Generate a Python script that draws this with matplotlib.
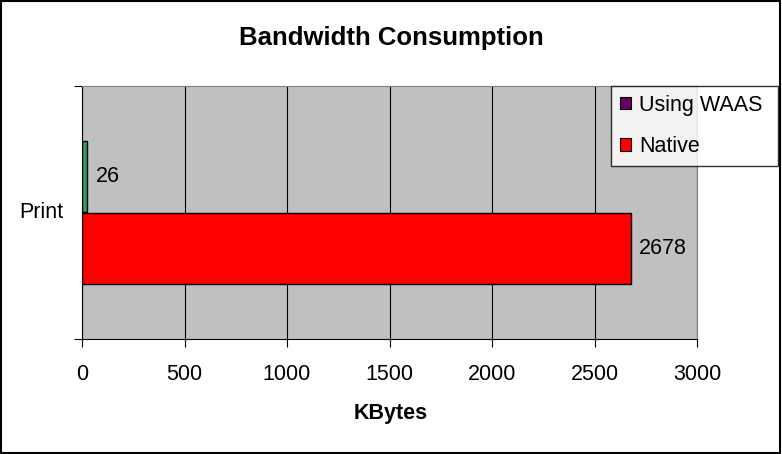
import matplotlib.pyplot as plt
from matplotlib.patches import Patch, Rectangle

plt.rcParams['font.family'] = ['Liberation Sans', 'DejaVu Sans']

category = 'Print'
series = ['Using WAAS', 'Native']
values = [26, 2678]
bar_colors = ['#339966', '#ff0000']
legend_colors = ['#660066', '#ff0000']
xticks = [0, 500, 1000, 1500, 2000, 2500, 3000]

W, H = 782, 454
fs = 15.5

fig = plt.figure(figsize=(W / 100, H / 100), dpi=100)
ax = fig.add_axes([82 / W, 115 / H, 615 / W, 253 / H])
ax.set_facecolor('#c0c0c0')

# green bar above the category line, red one below
ypos = [0.5, -0.5]
for y, v, c in zip(ypos, values, bar_colors):
    ax.barh(y, v, height=1.0, color=c, edgecolor='black', linewidth=1, zorder=3)
    ax.annotate(str(v), (v, y), xytext=(6, 0), textcoords='offset points',
                va='center', ha='left', fontsize=fs)

ax.set_xlim(0, 3000)
ax.set_ylim(-1.757, 1.757)
ax.set_xticks(xticks)
ax.set_xticklabels([str(t) for t in xticks], fontsize=fs)
ax.xaxis.grid(True, color='black', linewidth=0.8, zorder=0)
ax.set_axisbelow(True)
ax.tick_params(axis='x', direction='out', length=6, pad=12, width=0.8)

ax.set_yticks([-1.757, 1.757])
ax.set_yticklabels(['', ''])
ax.tick_params(axis='y', direction='out', length=6, width=0.8)
ax.text(-19 / 615, 0.0, category, transform=ax.get_yaxis_transform(),
        ha='right', va='center', fontsize=fs)

for s in ['top', 'right']:
    ax.spines[s].set_color('#808080')
for s in ['left', 'bottom']:
    ax.spines[s].set_color('black')
    ax.spines[s].set_linewidth(0.8)

fig.text(0.5, 1 - 414 / H, 'KBytes', ha='center', va='center', fontsize=fs, fontweight='bold')
fig.text(0.5, 1 - 38 / H, 'Bandwidth Consumption', ha='center', va='center',
         fontsize=18.5, fontweight='bold')

handles = [Patch(facecolor=c, edgecolor='black', linewidth=0.8) for c in legend_colors]
leg = fig.legend(handles, series, loc='upper left', mode='expand',
                 bbox_to_anchor=(611 / W, 1 - 162 / H, 167 / W, 76 / H),
                 fontsize=fs, frameon=True, fancybox=False, handlelength=0.55, handleheight=0.55,
                 handletextpad=0.35, borderpad=0.4, labelspacing=0.95, borderaxespad=0)
leg.get_frame().set_edgecolor('black')
leg.get_frame().set_linewidth(1)
leg.get_frame().set_facecolor('white')

fig.patches.append(Rectangle((0.001, 0.002), 0.996, 0.996, transform=fig.transFigure,
                             fill=False, edgecolor='black', linewidth=1.5))

fig.savefig('out.png', dpi=100)
